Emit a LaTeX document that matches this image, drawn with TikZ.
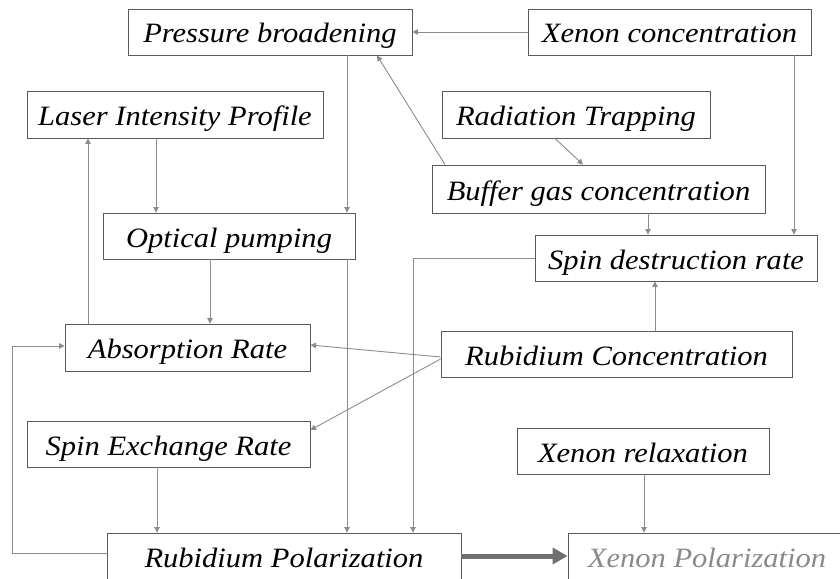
\documentclass[tikz,border=0pt]{standalone}
\usepackage{fontspec}
\setmainfont{Liberation Serif}[FakeStretch=1.09]
\usetikzlibrary{arrows.meta}
\definecolor{boxline}{HTML}{5A5A5A}
\definecolor{conn}{HTML}{8C8C8C}
\definecolor{bigarrow}{HTML}{707070}
\definecolor{graytext}{HTML}{8A8A8A}
\tikzset{
  box/.style={draw=boxline, line width=0.9pt, inner sep=0pt, minimum height=46pt,
    text height=22pt, text depth=0pt,
    font=\fontsize{28}{30}\selectfont\itshape, text=black},
  link/.style={draw=conn, line width=0.9pt, -{Triangle[width=5.5pt,length=5.5pt]}},
  bigconn/.style={draw=bigarrow, line width=5pt, -{Triangle[width=16pt,length=15pt]}}
}
\begin{document}
\begin{tikzpicture}[x=1pt, y=-1pt]
\clip (0,0) rectangle (840,578);
\fill[white] (0,0) rectangle (840,578);
\node[box, minimum width=284pt] (pb) at (270,32) {Pressure broadening};
\node[box, minimum width=283pt] (xc) at (669.5,32) {Xenon concentration};
\node[box, minimum width=296pt, minimum height=47pt] (lip) at (175,114.5) {Laser Intensity Profile};
\node[box, minimum width=268pt, minimum height=47pt] (rt) at (576,114.5) {Radiation Trapping};
\node[box, minimum width=333pt, minimum height=48pt] (bg) at (598.5,189) {Buffer gas concentration};
\node[box, minimum width=252pt] (op) at (229,236) {Optical pumping};
\node[box, minimum width=282pt] (sd) at (676,258) {Spin destruction rate};
\node[box, minimum width=245pt, minimum height=47pt] (ar) at (187.5,347.5) {Absorption Rate};
\node[box, minimum width=351pt] (rc) at (616.5,354) {Rubidium Concentration};
\node[box, minimum width=283pt] (ser) at (168.5,444) {Spin Exchange Rate};
\node[box, minimum width=252pt] (xr) at (643,451) {Xenon relaxation};
\node[box, minimum width=354pt] (rp) at (284,556) {Rubidium Polarization};
\node[box, minimum width=278pt, text=graytext] (xp) at (707,556) {Xenon Polarization};

\draw[link] (xc.west) -- (pb.east);
\draw[link] ([xshift=124.5pt]xc.south) -- ([xshift=118pt]sd.north);
\draw[link] ([xshift=-153.5pt]bg.north) -- ([xshift=107pt]pb.south);
\draw[link] ([xshift=-21pt]rt.south) -- ([xshift=-15.5pt]bg.north);
\draw[link] ([xshift=49.5pt]bg.south) -- ([xshift=-28pt]sd.north);
\draw[link] ([xshift=77pt]pb.south) -- ([xshift=118pt]op.north);
\draw[link] ([xshift=-19pt]lip.south) -- ([xshift=-73pt]op.north);
\draw[link] ([xshift=-99.5pt]ar.north) -- ([xshift=-87pt]lip.south);
\draw[link] ([xshift=-19pt]op.south) -- ([xshift=22.5pt]ar.north);
\draw[link] ([xshift=118pt]op.south) -- ([xshift=63pt]rp.north);
\draw[link] (sd.west) -| ([xshift=129pt]rp.north);
\draw[link] ([yshift=-3pt]rc.west) -- ([yshift=2.5pt]ar.east);
\draw[link] ([yshift=-5pt]rc.west) -- ([yshift=14pt]ser.east);
\draw[link] ([xshift=38.5pt]rc.north) -- ([xshift=-21pt]sd.south);
\draw[link] ([xshift=-11.5pt]ser.south) -- ([xshift=-127pt]rp.north);
\draw[link] ([yshift=3pt]rp.west) -- ++(-94,0) |- ([yshift=1.5pt]ar.west);
\draw[link] ([xshift=1pt]xr.south) -- ([xshift=-63pt]xp.north);
\draw[bigconn] (rp.east) -- (xp.west);
\end{tikzpicture}
\end{document}
